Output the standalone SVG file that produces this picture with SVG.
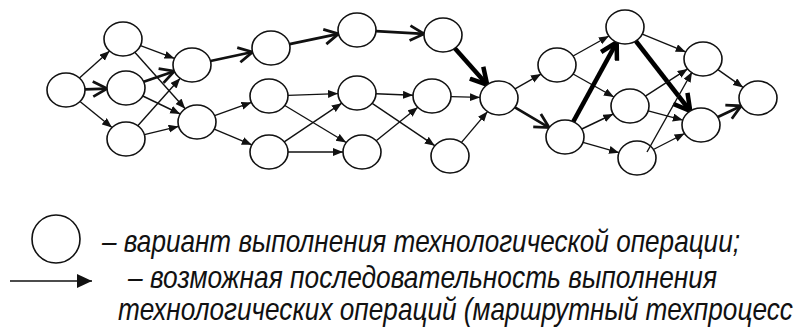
<svg xmlns="http://www.w3.org/2000/svg" width="799" height="328" viewBox="0 0 799 328">
<style>
.node ellipse{fill:#fff;stroke:#111;stroke-width:1.6}
.thin{stroke:#111;stroke-width:1.4;fill:none;marker-end:url(#tri)}
.med{stroke:#111;stroke-width:2.8;fill:none;marker-end:url(#vee)}
.bold{stroke:#000;stroke-width:4.5;fill:none;marker-end:url(#veeb)}
.lg{font-family:"Liberation Sans",Arial,sans-serif;font-style:italic;font-size:32px;fill:#111}
</style>
<defs>
<marker id="tri" markerUnits="userSpaceOnUse" markerWidth="11" markerHeight="9" refX="10" refY="4" orient="auto"><path d="M0,0 L10,4 L0,8 z" fill="#111"/></marker>
<marker id="vee" markerUnits="userSpaceOnUse" markerWidth="20" markerHeight="20" refX="15" refY="9" orient="auto"><path d="M1,1.5 L15,9 L1,16.5" fill="none" stroke="#111" stroke-width="2.8" stroke-linejoin="miter"/></marker>
<marker id="veeb" markerUnits="userSpaceOnUse" markerWidth="24" markerHeight="24" refX="17" refY="11" orient="auto"><path d="M1,2 L17,11 L1,20" fill="none" stroke="#000" stroke-width="4.5" stroke-linejoin="miter"/></marker>
<marker id="legtri" markerUnits="userSpaceOnUse" markerWidth="16" markerHeight="14" refX="15" refY="7" orient="auto"><path d="M0,0 L15,7 L0,14 z" fill="#111"/></marker>
</defs>
<g id="connectors">
<line class="thin" x1="79.4" y1="78" x2="109.6" y2="51"/>
<line class="med" x1="85" y1="89.4" x2="107" y2="88.6"/>
<line class="thin" x1="80" y1="101.5" x2="112" y2="127.5"/>
<line class="thin" x1="140.5" y1="45.6" x2="174.5" y2="58.4"/>
<line class="thin" x1="134.8" y1="52.3" x2="185.2" y2="108.7"/>
<line class="med" x1="143.7" y1="81.8" x2="174.3" y2="71.2"/>
<line class="thin" x1="142.8" y1="96" x2="180.2" y2="114"/>
<line class="thin" x1="137.8" y1="125.7" x2="180.2" y2="78.3"/>
<line class="thin" x1="144.4" y1="134.6" x2="178.6" y2="126.4"/>
<line class="med" x1="210.5" y1="61" x2="252.5" y2="52"/>
<line class="thin" x1="214.6" y1="115.6" x2="251.4" y2="102.4"/>
<line class="thin" x1="214.2" y1="129.2" x2="251.8" y2="144.8"/>
<line class="med" x1="289.5" y1="44.1" x2="338.5" y2="33.9"/>
<line class="med" x1="376" y1="31.1" x2="424" y2="33.9"/>
<line class="bold" x1="454.8" y1="48.3" x2="487.2" y2="84.7"/>
<line class="thin" x1="288" y1="95.4" x2="338" y2="93.6"/>
<line class="thin" x1="284.8" y1="105.5" x2="346.2" y2="142.5"/>
<line class="thin" x1="284.2" y1="141.8" x2="341.8" y2="103.2"/>
<line class="thin" x1="288" y1="152" x2="343" y2="152"/>
<line class="thin" x1="376" y1="93.8" x2="413" y2="95.2"/>
<line class="thin" x1="372.2" y1="103.3" x2="434.8" y2="145.7"/>
<line class="thin" x1="376.2" y1="140.7" x2="417.8" y2="107.3"/>
<line class="thin" x1="451" y1="96.6" x2="480" y2="97.4"/>
<line class="thin" x1="461.5" y1="142.4" x2="487.5" y2="111.6"/>
<line class="thin" x1="515" y1="88.9" x2="541" y2="74.1"/>
<line class="med" x1="514.9" y1="107.4" x2="549.1" y2="127.6"/>
<line class="thin" x1="573.1" y1="56" x2="608.9" y2="36"/>
<line class="thin" x1="573.1" y1="74" x2="613.9" y2="97"/>
<line class="bold" x1="573.3" y1="121.7" x2="616.7" y2="42.3"/>
<line class="thin" x1="581.8" y1="129" x2="613.2" y2="114"/>
<line class="thin" x1="583" y1="142.3" x2="619" y2="152.7"/>
<line class="thin" x1="642.3" y1="34.1" x2="685.7" y2="51.9"/>
<line class="bold" x1="635.8" y1="41" x2="690.2" y2="111"/>
<line class="thin" x1="645.4" y1="96.1" x2="687.6" y2="68.9"/>
<line class="thin" x1="648.2" y1="110.9" x2="682.8" y2="120.1"/>
<line class="thin" x1="653.4" y1="149.5" x2="684.6" y2="133.5"/>
<line class="thin" x1="717.9" y1="69.6" x2="743.1" y2="87.4"/>
<line class="med" x1="717.8" y1="117.1" x2="741.2" y2="105.9"/>
</g>
<g id="n0" class="node"><ellipse cx="66" cy="90" rx="19" ry="17"/></g>
<g id="n1" class="node"><ellipse cx="123" cy="39" rx="19" ry="17"/></g>
<g id="n2" class="node"><ellipse cx="126" cy="88" rx="19" ry="17"/></g>
<g id="n3" class="node"><ellipse cx="126" cy="139" rx="19" ry="17"/></g>
<g id="n4" class="node"><ellipse cx="192" cy="65" rx="19" ry="17"/></g>
<g id="n5" class="node"><ellipse cx="197" cy="122" rx="19" ry="17"/></g>
<g id="n6" class="node"><ellipse cx="271" cy="48" rx="19" ry="17"/></g>
<g id="n7" class="node"><ellipse cx="269" cy="96" rx="19" ry="17"/></g>
<g id="n8" class="node"><ellipse cx="269" cy="152" rx="19" ry="17"/></g>
<g id="n9" class="node"><ellipse cx="357" cy="30" rx="19" ry="17"/></g>
<g id="n10" class="node"><ellipse cx="443" cy="35" rx="19" ry="17"/></g>
<g id="n11" class="node"><ellipse cx="357" cy="93" rx="19" ry="17"/></g>
<g id="n12" class="node"><ellipse cx="362" cy="152" rx="19" ry="17"/></g>
<g id="n13" class="node"><ellipse cx="432" cy="96" rx="19" ry="17"/></g>
<g id="n14" class="node"><ellipse cx="450" cy="156" rx="19" ry="17"/></g>
<g id="n15" class="node"><ellipse cx="499" cy="98" rx="19" ry="17"/></g>
<g id="n16" class="node"><ellipse cx="557" cy="65" rx="19" ry="17"/></g>
<g id="n17" class="node"><ellipse cx="625" cy="27" rx="19" ry="17"/></g>
<g id="n18" class="node"><ellipse cx="565" cy="137" rx="19" ry="17"/></g>
<g id="n19" class="node"><ellipse cx="630" cy="106" rx="19" ry="17"/></g>
<g id="n20" class="node"><ellipse cx="637" cy="158" rx="19" ry="17"/></g>
<g id="n21" class="node"><ellipse cx="703" cy="59" rx="19" ry="17"/></g>
<g id="n22" class="node"><ellipse cx="701" cy="125" rx="19" ry="17"/></g>
<g id="n23" class="node"><ellipse cx="758" cy="98" rx="19" ry="17"/></g>
<line x1="647" y1="152" x2="692" y2="72" stroke="#111" stroke-width="1.4" marker-end="url(#tri)"/>
<g id="legend">
<circle cx="56" cy="239" r="24" fill="#fff" stroke="#111" stroke-width="1.6"/>
<line x1="10" y1="281" x2="92" y2="281" stroke="#111" stroke-width="1.6" marker-end="url(#legtri)"/>
<g transform="scale(0.82 1)">
<text class="lg" x="124.39" y="252" textLength="778" lengthAdjust="spacingAndGlyphs">– вариант выполнения технологической операции;</text>
<text class="lg" x="156.1" y="288" textLength="718.3" lengthAdjust="spacingAndGlyphs">– возможная последовательность выполнения</text>
<text class="lg" x="143.9" y="320.5" textLength="823" lengthAdjust="spacingAndGlyphs" style="font-size:31px">технологических операций (маршрутный техпроцесс</text>
</g>
</g>
</svg>
